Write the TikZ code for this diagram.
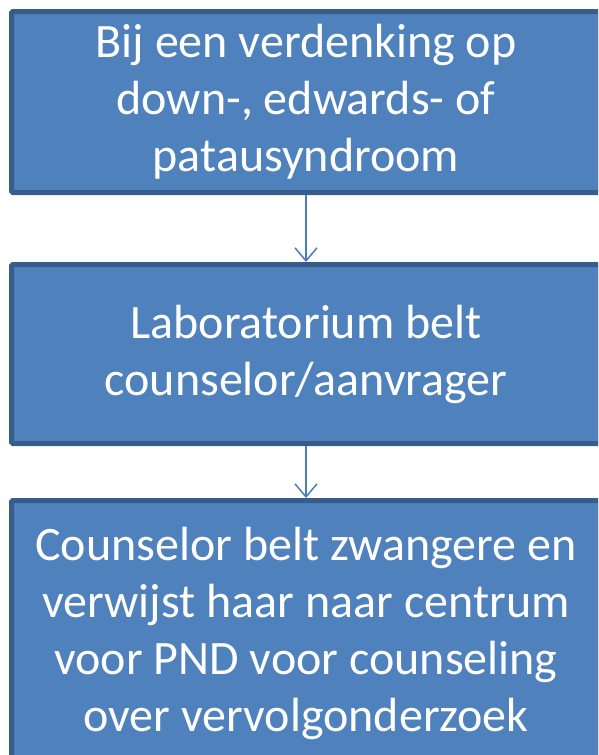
\documentclass[tikz,border=0pt]{standalone}
\usepackage{fontspec}
\setmainfont{Carlito}
\usepackage{tikz}
\usetikzlibrary{arrows.meta}
\usetikzlibrary{positioning}

\definecolor{boxfill}{HTML}{4F81BD}
\definecolor{boxline}{HTML}{385D8A}
\definecolor{arrowcol}{HTML}{4A7EBB}

\tikzset{
    stepbox/.style={draw=boxline, fill=boxfill, line width=5pt, rounded corners=1.5pt,
        minimum width=589pt, inner sep=0pt, text=white, align=center,
        font=\fontsize{48}{57}\selectfont},
    flow/.style={draw=arrowcol, line width=1.5pt, -{Straight Barb[length=13pt, width=22pt, line width=1.5pt]}}
}

\begin{document}
\begin{tikzpicture}[x=1pt, y=1pt]
        \useasboundingbox (0,0) rectangle (598,-755);
        \clip (0,0) rectangle (598,-755);
        \node[stepbox, minimum height=181pt] (verdenking) at (306,-102)
            {Bij een verdenking op\\down-, edwards- of\\patausyndroom};
        \node[stepbox, minimum height=179pt] (lab) at (306,-354)
            {Laboratorium belt\\counselor/aanvrager};
        \node[stepbox, minimum height=265pt] (counselor) at (306,-633)
            {Counselor belt zwangere en\\verwijst haar naar centrum\\voor PND voor counseling\\over vervolgonderzoek};

        \draw[flow] (verdenking) -- (lab);
        \draw[flow] (lab) -- (counselor);
    \end{tikzpicture}
\end{document}
